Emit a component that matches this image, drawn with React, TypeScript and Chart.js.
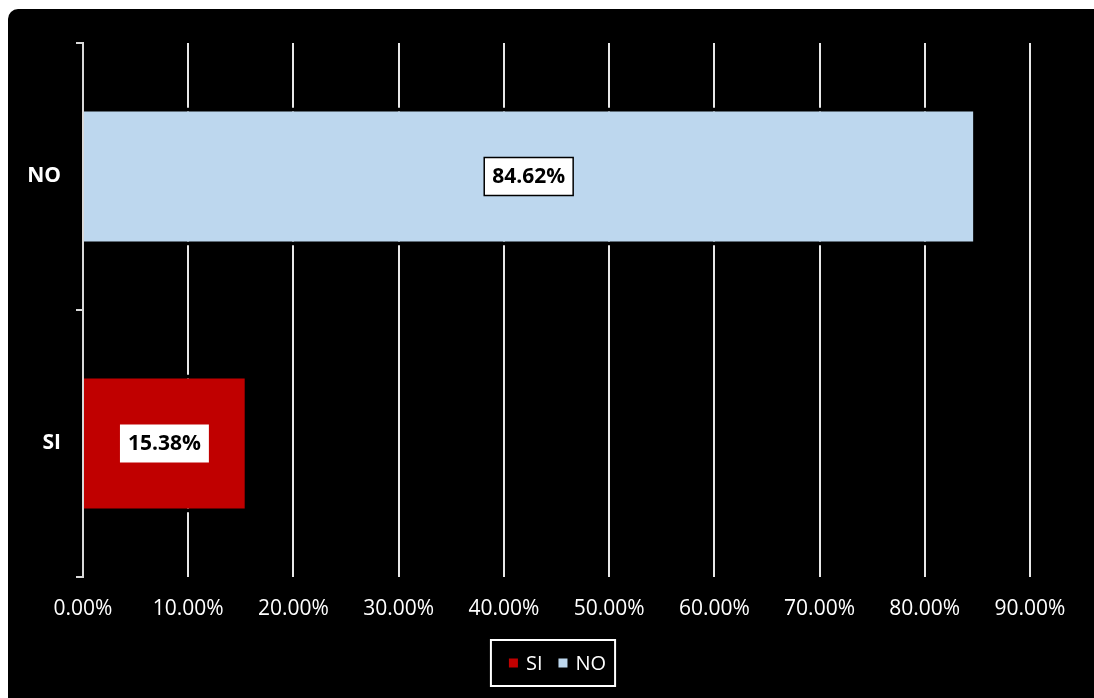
import React, { useEffect, useRef } from "react";
import { Chart, registerables } from "chart.js";

Chart.register(...registerables);

// ---- Data ----
const categories = ["NO", "SI"];
const seriesNames = ["SI", "NO"];
const siValues: (number | null)[] = [null, 15.38];
const noValues: (number | null)[] = [84.62, null];
const seriesColors = ["#C00000", "#BDD7EE"];
const xMin = 0;
const xMax = 90;
const xStep = 10;

const FONT = '"Open Sans", "DejaVu Sans", sans-serif';

const boxLabelPlugin = {
  id: "boxLabels",
  afterDatasetsDraw(chart: any) {
    const ctx = chart.ctx;
    chart.data.datasets.forEach((ds: any, di: number) => {
      const meta = chart.getDatasetMeta(di);
      meta.data.forEach((el: any, i: number) => {
        const v = ds.data[i];
        if (v == null) return;
        const { x, y, base } = el.getProps(["x", "y", "base"], true);
        const cx = (x + base) / 2;
        const text = Number(v).toFixed(2) + "%";
        ctx.save();
        ctx.font = `bold 21px ${FONT}`;
        const w = ctx.measureText(text).width + 16;
        const h = 38;
        ctx.fillStyle = "#ffffff";
        ctx.fillRect(cx - w / 2, y - h / 2, w, h);
        if (ds.labelBorder) {
          ctx.strokeStyle = "#000000";
          ctx.lineWidth = 1.5;
          ctx.strokeRect(cx - w / 2, y - h / 2, w, h);
        }
        ctx.fillStyle = "#000000";
        ctx.textAlign = "center";
        ctx.textBaseline = "middle";
        ctx.fillText(text, cx, y + 1);
        ctx.restore();
      });
    });
  },
};

const boxLegendPlugin = {
  id: "boxLegend",
  afterDraw(chart: any) {
    const ctx = chart.ctx;
    ctx.save();
    ctx.font = `20px ${FONT}`;
    const items = chart.data.datasets.map((ds: any) => ({
      label: ds.label,
      color: ds.backgroundColor,
      w: ctx.measureText(ds.label).width,
    }));
    const sq = 9;
    const gapText = 8;
    const gapItem = 16;
    const padL = 18;
    const padR = 9;
    const contentW =
      items.reduce((s: number, it: any) => s + sq + gapText + it.w, 0) +
      gapItem * (items.length - 1);
    const boxW = padL + contentW + padR;
    const cx = 553;
    const top = 640;
    const h = 46;
    const left = cx - boxW / 2;
    ctx.strokeStyle = "#ffffff";
    ctx.lineWidth = 2;
    ctx.strokeRect(left, top, boxW, h);
    let x = left + padL;
    const cy = top + h / 2;
    items.forEach((it: any) => {
      ctx.fillStyle = it.color;
      ctx.fillRect(x, cy - sq / 2, sq, sq);
      x += sq + gapText;
      ctx.fillStyle = "#ffffff";
      ctx.textBaseline = "middle";
      ctx.textAlign = "left";
      ctx.fillText(it.label, x, cy + 1);
      x += it.w + gapItem;
    });
    ctx.restore();
  },
};

export default function App() {
  const canvasRef = useRef<HTMLCanvasElement | null>(null);

  useEffect(() => {
    if (!canvasRef.current) return;
    Chart.defaults.font.family = FONT;
    const chart = new Chart(canvasRef.current, {
      type: "bar",
      data: {
        labels: categories,
        datasets: [
          {
            label: seriesNames[0],
            data: siValues,
            backgroundColor: seriesColors[0],
            borderColor: "#000000",
            borderWidth: { top: 4, bottom: 4, left: 0, right: 0 },
            borderSkipped: false,
            labelBorder: false,
          } as any,
          {
            label: seriesNames[1],
            data: noValues,
            backgroundColor: seriesColors[1],
            borderColor: "#000000",
            borderWidth: { top: 4, bottom: 4, left: 0, right: 0 },
            borderSkipped: false,
            labelBorder: true,
          } as any,
        ],
      },
      options: {
        indexAxis: "y",
        responsive: false,
        animation: false,
        devicePixelRatio: 1,
        layout: { padding: { left: 8, top: 43, right: 64, bottom: 54 } },
        datasets: {
          bar: { grouped: false, categoryPercentage: 1, barPercentage: 0.517 },
        },
        plugins: {
          legend: { display: false },
          tooltip: { enabled: false },
        },
        scales: {
          x: {
            type: "linear",
            min: xMin,
            max: xMax,
            ticks: {
              stepSize: xStep,
              color: "#ffffff",
              font: { size: 21 },
              padding: 19,
              callback: (v: any) => Number(v).toFixed(2) + "%",
            },
            grid: { color: "#e8e8e8", lineWidth: 2, drawTicks: false },
            border: { display: false },
            afterFit: (s: any) => {
              s.height = 67;
            },
          },
          y: {
            z: 1,
            ticks: {
              color: "#ffffff",
              font: { size: 21, weight: "bold" },
              padding: 15,
            },
            grid: {
              drawOnChartArea: false,
              drawTicks: true,
              tickLength: 7,
              color: "#d9d9d9",
              lineWidth: 2,
            },
            border: { display: true, color: "#d9d9d9", width: 2 },
            afterFit: (s: any) => {
              s.width = 75;
            },
          },
        } as any,
      } as any,
      plugins: [boxLabelPlugin, boxLegendPlugin],
    });
    return () => chart.destroy();
  }, []);

  return (
    <div
      style={{
        position: "fixed",
        left: 0,
        top: 0,
        width: 1094,
        height: 698,
        overflow: "hidden",
        background: "#ffffff",
      }}
    >
      <div
        style={{
          position: "absolute",
          left: 8,
          top: 9,
          width: 1110,
          height: 710,
          background: "#000000",
          borderRadius: 10,
        }}
      />
      <canvas
        ref={canvasRef}
        width={1094}
        height={698}
        style={{ position: "absolute", left: 0, top: 0, width: 1094, height: 698 }}
      />
    </div>
  );
}
